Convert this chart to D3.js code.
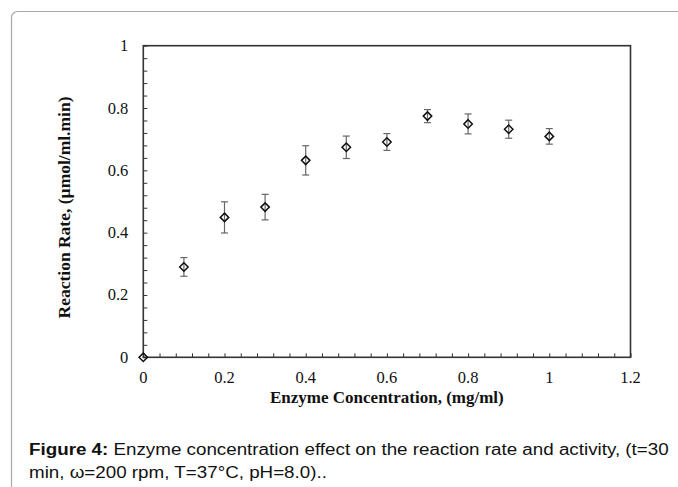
<!DOCTYPE html>
<html>
<head>
<meta charset="utf-8">
<script src="https://cdn.jsdelivr.net/npm/d3@7/dist/d3.min.js"></script>
<style>
  html, body { margin: 0; padding: 0; background: #fff; }
  svg { display: block; }
</style>
</head>
<body>
<svg id="chart" width="678" height="487"></svg>
<script>
// Enzyme concentration (mg/ml) vs. reaction rate (µmol/ml.min), with error bars
const concentration = [0, 0.1, 0.2, 0.3, 0.4, 0.5, 0.6, 0.7, 0.8, 0.9, 1.0];
const reactionRate  = [0, 0.290, 0.449, 0.482, 0.632, 0.674, 0.691, 0.774, 0.749, 0.732, 0.709];
const rateError     = [0, 0.030, 0.050, 0.041, 0.047, 0.036, 0.027, 0.021, 0.032, 0.029, 0.025];

const xTicks = [0, 0.2, 0.4, 0.6, 0.8, 1, 1.2];
const yTicks = [0, 0.2, 0.4, 0.6, 0.8, 1];

const xTitle = "Enzyme Concentration, (mg/ml)";
const yTitle = "Reaction Rate, (µmol/ml.min)";
const captionBold = "Figure 4:";
const captionLine1 = " Enzyme concentration effect on the reaction rate and activity, (t=30";
const captionLine2 = "min, ω=200 rpm, T=37°C, pH=8.0)..";

const svg = d3.select("#chart");

// card frame around figure and caption
svg.append("rect")
  .attr("x", 11.5).attr("y", 11.5)
  .attr("width", 700).attr("height", 520)
  .attr("rx", 6).attr("ry", 6)
  .attr("fill", "none")
  .attr("stroke", "#a8a8a8")
  .attr("stroke-width", 1.2);

const plot = { left: 143.3, right: 630.5, top: 45.7, bottom: 357.3 };

const x = d3.scaleLinear().domain([0, 1.2]).range([plot.left, plot.right]);
const y = d3.scaleLinear().domain([0, 1]).range([plot.bottom, plot.top]);

const serif = "'Liberation Serif', 'Times New Roman', serif";
const axisColor = "#333";

// minor ticks every 0.04, drawn inside the plot
const minorX = d3.range(0, 1.2001, 0.04);
const minorY = d3.range(0, 1.0001, 0.04);

const xAxis = d3.axisBottom(x).tickValues(minorX).tickSize(-4).tickFormat("");
const yAxis = d3.axisLeft(y).tickValues(minorY).tickSize(-4).tickFormat("");

const gx = svg.append("g").attr("transform", `translate(0,${plot.bottom})`).call(xAxis);
const gy = svg.append("g").attr("transform", `translate(${plot.left},0)`).call(yAxis);
[gx, gy].forEach(g => {
  g.select(".domain").remove();
  g.selectAll(".tick line").attr("stroke", axisColor).attr("stroke-width", 1);
});

// major tick labels
svg.append("g").selectAll("text").data(xTicks).join("text")
  .attr("x", d => x(d)).attr("y", plot.bottom + 26)
  .attr("text-anchor", "middle")
  .attr("font-family", serif).attr("font-size", 16.5).attr("fill", "#111")
  .text(d => d3.format("")(d));

svg.append("g").selectAll("text").data(yTicks).join("text")
  .attr("x", plot.left - 15).attr("y", d => y(d) + 5.5)
  .attr("text-anchor", "end")
  .attr("font-family", serif).attr("font-size", 16.5).attr("fill", "#111")
  .text(d => d3.format("")(d));

// plot frame
svg.append("rect")
  .attr("x", plot.left).attr("y", plot.top)
  .attr("width", plot.right - plot.left).attr("height", plot.bottom - plot.top)
  .attr("fill", "none").attr("stroke", axisColor).attr("stroke-width", 1.6);

// axis titles
svg.append("text")
  .attr("x", (plot.left + plot.right) / 2).attr("y", plot.bottom + 46)
  .attr("text-anchor", "middle")
  .attr("font-family", serif).attr("font-weight", "bold").attr("font-size", 17).attr("fill", "#111")
  .text(xTitle);

svg.append("text")
  .attr("transform", `translate(70,${(plot.top + plot.bottom) / 2 + 6}) rotate(-90)`)
  .attr("text-anchor", "middle")
  .attr("font-family", serif).attr("font-weight", "bold").attr("font-size", 17.5).attr("fill", "#111")
  .text(yTitle);

const data = concentration.map((c, i) => ({ c, r: reactionRate[i], e: rateError[i] }));

// error bars
const eb = svg.append("g").attr("stroke", "#666").attr("stroke-width", 1.2);
data.filter(d => d.e > 0).forEach(d => {
  const cx = x(d.c);
  eb.append("line").attr("x1", cx).attr("x2", cx).attr("y1", y(d.r + d.e)).attr("y2", y(d.r - d.e));
  eb.append("line").attr("x1", cx - 3.5).attr("x2", cx + 3.5).attr("y1", y(d.r + d.e)).attr("y2", y(d.r + d.e));
  eb.append("line").attr("x1", cx - 3.5).attr("x2", cx + 3.5).attr("y1", y(d.r - d.e)).attr("y2", y(d.r - d.e));
});

// diamond markers
const diamond = d3.symbol().type(d3.symbolDiamond2).size(46);
svg.append("g").selectAll("path").data(data).join("path")
  .attr("transform", d => `translate(${x(d.c)},${y(d.r)})`)
  .attr("d", diamond)
  .attr("fill", "none")
  .attr("stroke", "#111")
  .attr("stroke-width", 1.5);

// caption, set slightly wide
const sans = "'Liberation Sans', Arial, sans-serif";
const capG = svg.append("g").attr("transform", "translate(29,0) scale(1.16,1)");
const cap = capG.append("text")
  .attr("x", 0).attr("y", 455)
  .attr("font-family", sans).attr("font-size", 16.2).attr("fill", "#111");
cap.append("tspan").attr("font-weight", "bold").text(captionBold);
cap.append("tspan").text(captionLine1);

capG.append("text")
  .attr("x", 0).attr("y", 478)
  .attr("font-family", sans).attr("font-size", 16.2).attr("fill", "#111")
  .text(captionLine2);
</script>
</body>
</html>
